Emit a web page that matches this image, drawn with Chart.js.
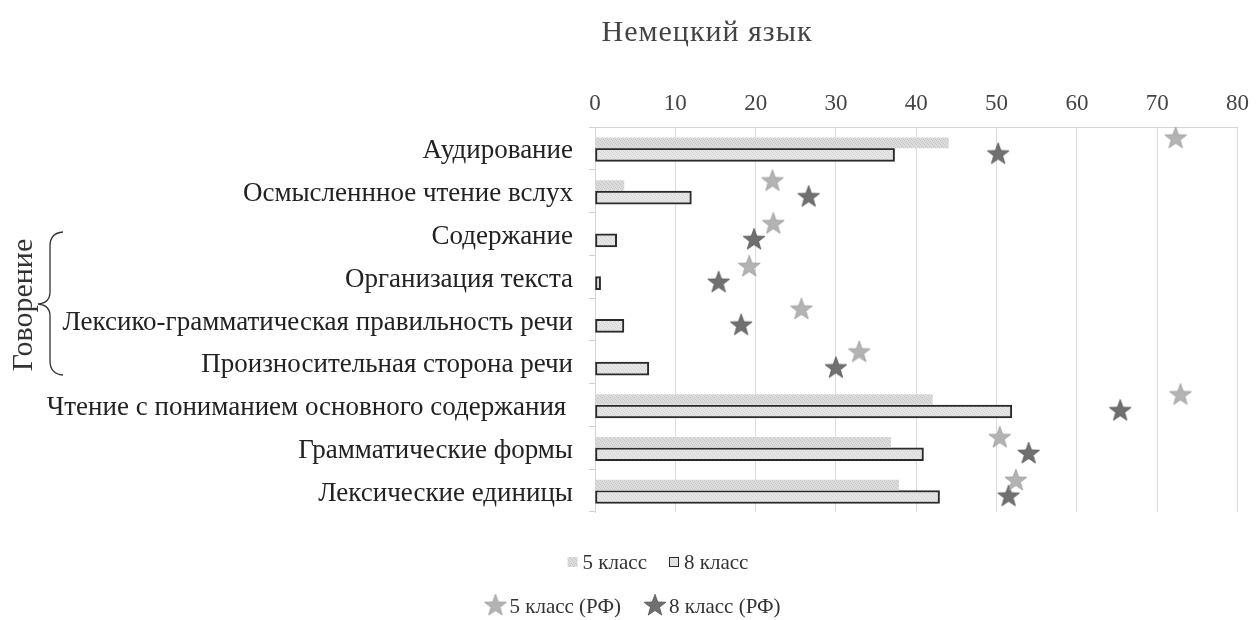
<!DOCTYPE html>
<html>
<head>
<meta charset="utf-8">
<script src="https://cdn.jsdelivr.net/npm/chart.js@4/dist/chart.umd.min.js"></script>
<style>
  html, body { margin: 0; padding: 0; background: #fff; }
  #wrap { width: 1258px; height: 620px; }
</style>
</head>
<body>
<div id="wrap"><canvas id="chart"></canvas></div>
<script>
const categories = ["Аудирование", "Осмысленнное чтение вслух", "Содержание", "Организация текста",
    "Лексико-грамматическая правильность речи", "Произносительная сторона речи",
    "Чтение с пониманием основного содержания ", "Грамматические формы", "Лексические единицы"];
const grade5 = [44, 3.6, null, null, null, null, 42, 36.8, 37.8];
const grade8 = [37.3, 12, 2.7, 0.7, 3.6, 6.7, 51.9, 40.9, 42.9];
const grade5RF = [72.3, 22.1, 22.2, 19.2, 25.7, 32.9, 72.9, 50.4, 52.4];
const grade8RF = [50.2, 26.6, 19.8, 15.4, 18.2, 30, 65.4, 54, 51.5];
const titleText = "Немецкий язык";
const groupLabel = "Говорение";

Chart.defaults.font.family = "'Liberation Serif', 'DejaVu Serif', serif";
Chart.defaults.color = "#333";

function makeStar(fill, stroke) {
    const c = document.createElement("canvas");
    c.width = 24; c.height = 24;
    const g = c.getContext("2d");
    g.beginPath();
    for (let i = 0; i < 10; i++) {
        const r = i % 2 ? 4.7 : 11.5;
        const a = -Math.PI / 2 + i * Math.PI / 5;
        g.lineTo(12 + r * Math.cos(a), 12.8 + r * Math.sin(a));
    }
    g.closePath();
    g.fillStyle = fill; g.fill();
    g.strokeStyle = stroke; g.lineWidth = 0.8; g.stroke();
    return c;
}

// speckled fill, like the scanned bars
function makePattern(base, dot) {
    const c = document.createElement("canvas");
    c.width = 4; c.height = 4;
    const g = c.getContext("2d");
    g.fillStyle = base; g.fillRect(0, 0, 4, 4);
    g.fillStyle = dot;
    g.fillRect(0, 0, 1, 1); g.fillRect(2, 1, 1, 1); g.fillRect(1, 2, 1, 1); g.fillRect(3, 3, 1, 1);
    return g.createPattern(c, "repeat");
}

const star5 = makeStar("#b3b3b3", "#9a9a9a");
const star8 = makeStar("#707070", "#555");

// series sit above / below the middle of each category row
const at = (values, shift) => values.map((v, i) => ({ x: v, y: i + shift }));

const extras = {
    id: "extras",
    afterDraw(chart) {
        const ctx = chart.ctx;
        ctx.save();
        ctx.fillStyle = "#444";
        ctx.font = "30px 'Liberation Serif', serif";
        ctx.textAlign = "center";
        ctx.textBaseline = "middle";
        ctx.letterSpacing = "1px";
        ctx.fillText(titleText, 707, 33);
        ctx.letterSpacing = "0px";

        // brace and group label
        ctx.strokeStyle = "#333";
        ctx.lineWidth = 1.3;
        ctx.beginPath();
        ctx.moveTo(63, 232);
        ctx.quadraticCurveTo(50, 233, 50, 246);
        ctx.lineTo(50, 292);
        ctx.quadraticCurveTo(50, 303, 38, 304);
        ctx.quadraticCurveTo(50, 305, 50, 316);
        ctx.lineTo(50, 361);
        ctx.quadraticCurveTo(50, 374, 63, 375);
        ctx.stroke();
        ctx.translate(24, 305);
        ctx.rotate(-Math.PI / 2);
        ctx.fillStyle = "#333";
        ctx.font = "30px 'Liberation Serif', serif";
        ctx.fillText(groupLabel, 0, 0);
        ctx.restore();

        // legend, two rows
        ctx.save();
        ctx.font = "21px 'Liberation Serif', serif";
        ctx.textBaseline = "middle";
        const ds = chart.data.datasets;
        const rows = [{ items: [0, 1], cx: 658, y: 562 }, { items: [2, 3], cx: 632, y: 606 }];
        rows.forEach(row => {
            const widths = row.items.map(i => (i < 2 ? 15 : 26) + ctx.measureText(ds[i].label).width);
            const total = widths.reduce((a, b) => a + b, 0) + 22 * (row.items.length - 1);
            let x = row.cx - total / 2;
            row.items.forEach(i => {
                const d = ds[i];
                if (i < 2) {
                    ctx.fillStyle = d.backgroundColor;
                    ctx.fillRect(x, row.y - 5, 10, 10);
                    if (d.borderWidth) {
                        ctx.strokeStyle = d.borderColor; ctx.lineWidth = 1;
                        ctx.strokeRect(x + 0.5, row.y - 4.5, 9, 9);
                    }
                    x += 15;
                } else {
                    ctx.drawImage(d.pointStyle, x, row.y - 13);
                    x += 26;
                }
                ctx.fillStyle = "#333";
                ctx.fillText(d.label, x, row.y + 1);
                x += ctx.measureText(d.label).width + 22;
            });
        });
        ctx.restore();
    }
};

new Chart(document.getElementById("chart"), {
    type: "bar",
    data: {
        labels: categories,
        datasets: [{
            label: "5 класс",
            data: at(grade5, -0.13),
            indexAxis: "y",
            xAxisID: "x", yAxisID: "yPos",
            grouped: false,
            barThickness: 10,
            backgroundColor: makePattern("#dcdcdc", "#c6c6c6"),
            borderWidth: 0
        }, {
            label: "8 класс",
            data: at(grade8, 0.15),
            indexAxis: "y",
            xAxisID: "x", yAxisID: "yPos",
            grouped: false,
            barThickness: 13,
            backgroundColor: makePattern("#e6e6e6", "#d4d4d4"),
            borderColor: "#2a2a2a",
            borderWidth: 2,
            borderSkipped: false
        }, {
            type: "scatter",
            label: "5 класс (РФ)",
            indexAxis: "x",
            data: at(grade5RF, -0.25),
            xAxisID: "x", yAxisID: "yPos",
            pointStyle: star5,
            showLine: false
        }, {
            type: "scatter",
            label: "8 класс (РФ)",
            indexAxis: "x",
            data: at(grade8RF, 0.12),
            xAxisID: "x", yAxisID: "yPos",
            pointStyle: star8,
            showLine: false
        }]
    },
    options: {
        indexAxis: "y",
        responsive: true,
        maintainAspectRatio: false,
        animation: false,
        layout: { padding: { left: 10, right: 12, top: 57, bottom: 108 } },
        scales: {
            x: {
                type: "linear",
                position: "top",
                min: 0, max: 80,
                ticks: { stepSize: 10, padding: 9, color: "#444", font: { size: 23 } },
                grid: { color: "#dcdcdc", drawTicks: false },
                border: { color: "#d4d4d4" },
                afterFit: s => { s.height = 70; }
            },
            y: {
                type: "category",
                position: "left",
                offset: true,
                ticks: { padding: 16, labelOffset: 3, color: "#222", font: { size: 27 } },
                grid: { offset: true, drawOnChartArea: false, tickLength: 6, color: "#cfcfcf" },
                border: { color: "#d4d4d4" },
                afterFit: s => { s.width = 585; }
            },
            yPos: {
                type: "linear",
                position: "left",
                display: false,
                offset: false,
                bounds: "data",
                min: -0.5, max: 8.5,
                reverse: true
            }
        },
        plugins: {
            title: { display: false },
            legend: { display: false },
            tooltip: { enabled: false }
        }
    },
    plugins: [extras]
});
</script>
</body>
</html>
